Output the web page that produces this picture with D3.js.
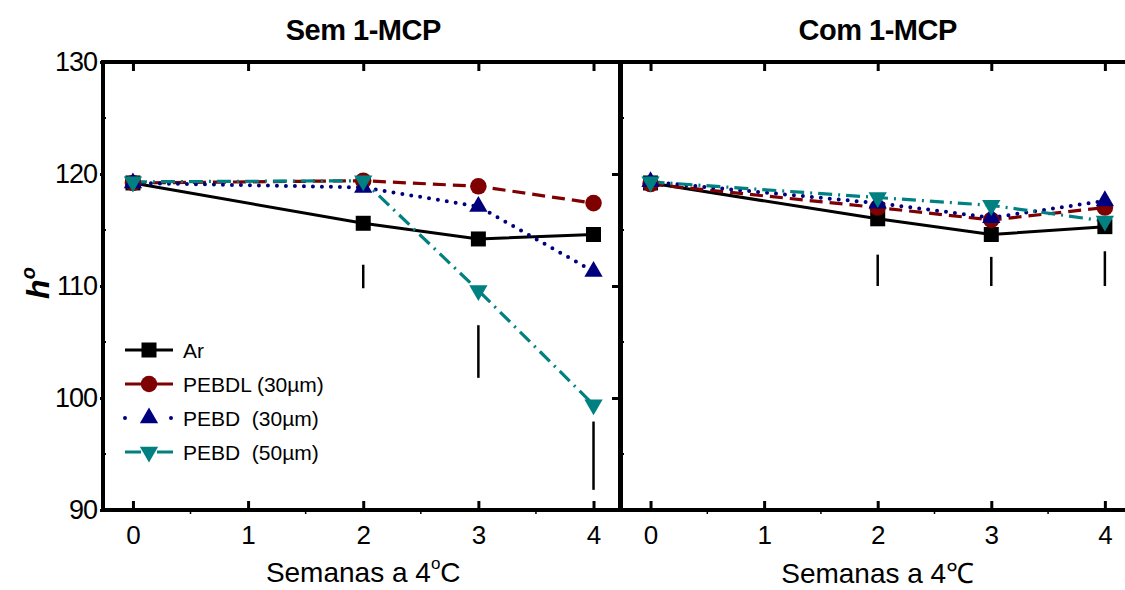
<!DOCTYPE html>
<html>
<head>
<meta charset="utf-8">
<script src="https://cdn.jsdelivr.net/npm/d3@7"></script>
<style>
  body { margin: 0; background: #fff; }
  text { font-family: "Liberation Sans", Arial, sans-serif; fill: #000; }
</style>
</head>
<body>
<svg id="chart" width="1125" height="590"></svg>
<script>
// weeks at 4°C where samples were measured
const weeks = [0, 2, 3, 4];
const xTicks = [0, 1, 2, 3, 4];
const yTicks = [90, 100, 110, 120, 130];
const yMinor = [95, 105, 115, 125];
const xMinor = [0.5, 1.5, 2.5, 3.5];

const seriesNames = ["Ar", "PEBDL (30\u00b5m)", "PEBD  (30\u00b5m)", "PEBD  (50\u00b5m)"];

// Sem 1-MCP
const semAr     = [119.2, 115.6, 114.2, 114.6];
const semPebdl  = [119.2, 119.4, 118.9, 117.4];
const semPebd30 = [119.2, 118.8, 117.1, 111.3];
const semPebd50 = [119.3, 119.4, 109.6, 99.4];

// Com 1-MCP
const comAr     = [119.2, 116.0, 114.6, 115.3];
const comPebdl  = [119.1, 117.0, 115.9, 117.0];
const comPebd30 = [119.3, 117.4, 116.1, 117.6];
const comPebd50 = [119.3, 117.9, 117.2, 115.8];

// LSD bars (week, low, high)
const barWeeks = [2, 3, 4];
const semBarLo = [109.8, 101.8, 91.8];
const semBarHi = [111.9, 106.5, 97.9];
const comBarLo = [110.0, 110.0, 110.0];
const comBarHi = [112.8, 112.6, 113.1];

const styles = [
    {color: "#000000", dash: null, width: 3, cap: "butt", symbol: d3.symbolSquare, size: 225, rot: 0},
    {color: "#7f0000", dash: "13,7", width: 3.2, cap: "butt", symbol: d3.symbolCircle, size: 215, rot: 0},
    {color: "#00007f", dash: "0,9", width: 4, cap: "round", symbol: d3.symbolTriangle, size: 145, rot: 0},
    {color: "#008080", dash: "14,6,2,6", width: 3.2, cap: "butt", symbol: d3.symbolTriangle, size: 145, rot: 180}
];

const panels = [
    {title: "Sem 1-MCP", left: 103, right: 620, series: [semAr, semPebdl, semPebd30, semPebd50],
     lo: semBarLo, hi: semBarHi, yLabels: true, yTickLen: 3, legend: true, xTitle: "sem"},
    {title: "Com 1-MCP", left: 621, right: 1131, series: [comAr, comPebdl, comPebd30, comPebd50],
     lo: comBarLo, hi: comBarHi, yLabels: false, yTickLen: 9, legend: false, xTitle: "com"}
];

const plotTop = 62, plotBottom = 510;
const svg = d3.select("#chart");

const y = d3.scaleLinear().domain([90, 130]).range([plotBottom, plotTop]);

panels.forEach(p => {
    const x = d3.scaleLinear().domain([-0.26, 4.23]).range([p.left, p.right]);
    const g = svg.append("g");

    // title
    g.append("text")
        .attr("x", x(2)).attr("y", 40)
        .attr("text-anchor", "middle")
        .attr("font-size", 29).attr("font-weight", "bold")
        .attr("letter-spacing", -0.5)
        .text(p.title);

    // bottom axis, inward ticks
    const xb = g.append("g")
        .attr("transform", `translate(0,${plotBottom})`)
        .call(d3.axisBottom(x).tickValues(xTicks).tickSize(-9).tickSizeOuter(0).tickPadding(16).tickFormat(d3.format("d")));
    xb.select(".domain").remove();
    xb.selectAll(".tick line").attr("stroke-width", 3);
    xb.selectAll("text").attr("font-size", 26).attr("font-family", "Liberation Sans, Arial, sans-serif");

    // top axis, inward ticks
    const xt = g.append("g")
        .attr("transform", `translate(0,${plotTop})`)
        .call(d3.axisTop(x).tickValues(xTicks).tickSize(-9).tickSizeOuter(0).tickFormat(""));
    xt.select(".domain").remove();
    xt.selectAll(".tick line").attr("stroke-width", 3);

    // left axis
    const ya = g.append("g")
        .attr("transform", `translate(${p.left},0)`)
        .call(d3.axisLeft(y).tickValues(yTicks).tickSize(p.yTickLen).tickSizeOuter(0).tickPadding(3)
            .tickFormat(p.yLabels ? d3.format("d") : ""));
    ya.select(".domain").remove();
    ya.selectAll(".tick line").attr("stroke-width", 3);
    ya.selectAll("text").attr("font-size", 27).attr("letter-spacing", -1)
        .attr("font-family", "Liberation Sans, Arial, sans-serif");

    // minor ticks
    g.append("g").selectAll("line").data(yMinor).join("line")
        .attr("x1", p.left).attr("x2", p.left + 3)
        .attr("y1", d => y(d)).attr("y2", d => y(d))
        .attr("stroke", "#000").attr("stroke-width", 2);
    g.append("g").selectAll("line").data(xMinor).join("line")
        .attr("x1", d => x(d)).attr("x2", d => x(d))
        .attr("y1", plotBottom).attr("y2", plotBottom + 4)
        .attr("stroke", "#000").attr("stroke-width", 1.5);

    // frame
    g.append("rect")
        .attr("x", p.left).attr("y", plotTop)
        .attr("width", p.right - p.left).attr("height", plotBottom - plotTop)
        .attr("fill", "none").attr("stroke", "#000").attr("stroke-width", 4);

    // LSD bars
    g.append("g").selectAll("line").data(barWeeks).join("line")
        .attr("x1", d => x(d)).attr("x2", d => x(d))
        .attr("y1", (d, i) => y(p.lo[i])).attr("y2", (d, i) => y(p.hi[i]))
        .attr("stroke", "#000").attr("stroke-width", 2.5);

    // series lines
    const line = d3.line().x((d, i) => x(weeks[i])).y(d => y(d));
    p.series.forEach((vals, k) => {
        const s = styles[k];
        g.append("path")
            .datum(vals)
            .attr("d", line)
            .attr("fill", "none")
            .attr("stroke", s.color)
            .attr("stroke-width", s.width)
            .attr("stroke-linecap", s.cap)
            .attr("stroke-dasharray", s.dash);
    });
    // markers on top
    p.series.forEach((vals, k) => {
        const s = styles[k];
        g.append("g").selectAll("path").data(vals).join("path")
            .attr("d", d3.symbol().type(s.symbol).size(s.size))
            .attr("transform", (d, i) => `translate(${x(weeks[i])},${y(d)}) rotate(${s.rot})`)
            .attr("fill", s.color);
    });

    // x title
    const xl = g.append("text")
        .attr("x", x(2)).attr("y", p.xTitle === "sem" ? 582 : 583)
        .attr("text-anchor", "middle")
        .attr("font-size", 28);
    if (p.xTitle === "sem") {
        xl.append("tspan").text("Semanas a 4");
        xl.append("tspan").attr("font-size", 17).attr("dy", -13).text("o");
        xl.append("tspan").attr("dy", 13).text("C");
    } else {
        xl.text("Semanas a 4\u2103");
    }

    // legend
    if (p.legend) {
        const lg = g.append("g").attr("transform", "translate(125,350)");
        seriesNames.forEach((name, k) => {
            const s = styles[k];
            const row = lg.append("g").attr("transform", `translate(0,${k * 34})`);
            row.append("line")
                .attr("x1", 0).attr("x2", 48)
                .attr("stroke", s.color).attr("stroke-width", s.width)
                .attr("stroke-linecap", s.cap)
                .attr("stroke-dasharray", k === 2 ? "0,23" : (k === 0 ? null : "16,16"));
            row.append("path")
                .attr("d", d3.symbol().type(s.symbol).size(s.size))
                .attr("transform", `translate(24,0) rotate(${s.rot})`)
                .attr("fill", s.color);
            row.append("text")
                .attr("x", 58).attr("dy", "0.36em")
                .attr("font-size", 21)
                .style("white-space", "pre")
                .text(name);
        });
    }
});

// y axis title
const yt = svg.append("text")
    .attr("transform", "translate(49,283) rotate(-90)")
    .attr("text-anchor", "middle")
    .attr("font-size", 32).attr("font-weight", "bold").attr("font-style", "italic");
yt.append("tspan").text("h");
yt.append("tspan").attr("font-size", 20).attr("dy", -14).text("o");
</script>
</body>
</html>
